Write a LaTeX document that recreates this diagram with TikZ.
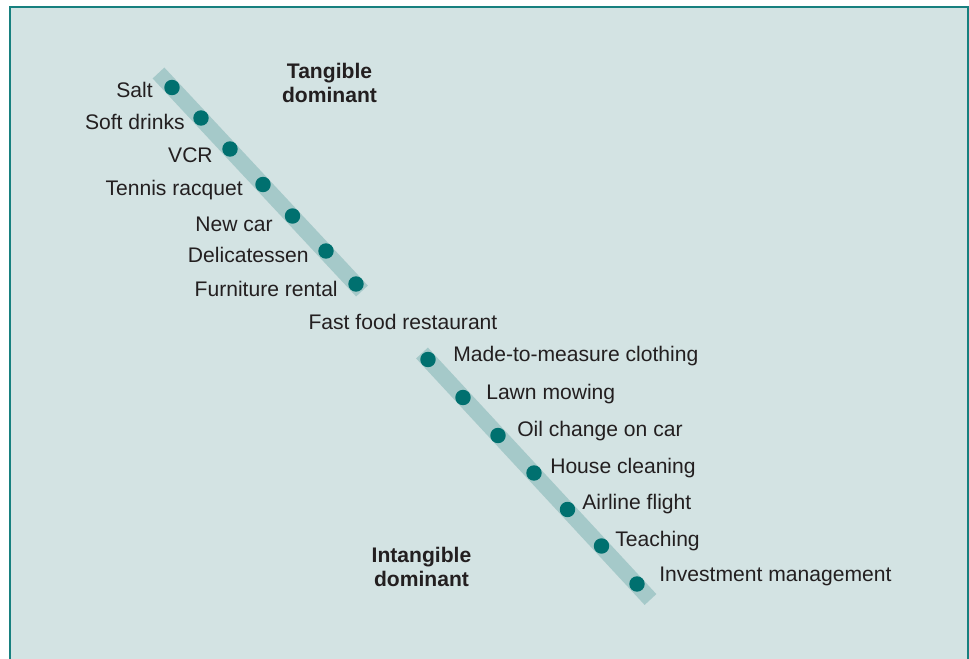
\documentclass[tikz,border=0pt]{standalone}
\usepackage{fontspec}
\setmainfont{Liberation Sans}
\definecolor{panelfill}{HTML}{D3E3E3}
\definecolor{bandfill}{HTML}{A5C9C9}
\definecolor{dotfill}{HTML}{00706F}
\definecolor{framecol}{HTML}{17807F}
\definecolor{textcol}{HTML}{231F20}
\tikzset{
  band/.style={draw=bandfill, line width=0.4cm, line cap=butt},
  spot/.style={circle, fill=dotfill, inner sep=0pt, minimum size=11},
  item/.style={inner sep=0pt, text=textcol, font=\fontsize{15}{18}\selectfont},
  pole/.style={inner sep=0pt, text=textcol, align=center, font=\fontsize{15}{17.1}\selectfont\bfseries}
}

\begin{document}
\begin{tikzpicture}[x=0.025cm, y=-0.025cm]
        \useasboundingbox (0,0) rectangle (969,659);
        % panel
        \fill[panelfill] (10,7) rectangle (968,659);
        \draw[framecol, line width=2] (10,659) -- (10,7) -- (968,7) -- (968,659);

        % bands
        \coordinate (tbegin) at (158.5,73);
        \coordinate (tend) at (362,291);
        \coordinate (ibegin) at (422,353);
        \coordinate (iend) at (650.5,599.5);
        \draw[band] (tbegin) -- (tend);
        \draw[band] (ibegin) -- (iend);

        % points, tangible side
        \node[spot] (salt) at (172,87.5) {};
        \node[spot] (soft) at (201,118) {};
        \node[spot] (vcr) at (230,149) {};
        \node[spot] (racquet) at (263,184.5) {};
        \node[spot] (newcar) at (292.5,216) {};
        \node[spot] (deli) at (326,251) {};
        \node[spot] (furniture) at (356,284) {};

        % points, intangible side
        \node[spot] (clothing) at (428,359.5) {};
        \node[spot] (lawn) at (463,397.5) {};
        \node[spot] (oil) at (498,435.5) {};
        \node[spot] (house) at (534,473) {};
        \node[spot] (airline) at (567.5,509.5) {};
        \node[spot] (teaching) at (601.5,546) {};
        \node[spot] (invest) at (637,584) {};

        % labels
        \node[item, anchor=base east] (salt-l) at (153,97.3) {Salt};
        \node[item, anchor=base east] (soft-l) at (185,129.3) {Soft drinks};
        \node[item, anchor=base east] (vcr-l) at (213,162.3) {VCR};
        \node[item, anchor=base east] (racquet-l) at (243,195) {Tennis racquet};
        \node[item, anchor=base east] (newcar-l) at (273,231.7) {New car};
        \node[item, anchor=base east] (deli-l) at (309,262.3) {Delicatessen};
        \node[item, anchor=base east] (furniture-l) at (338,296.7) {Furniture rental};
        \node[item, anchor=base west] (fastfood-l) at (308.3,329) {Fast food restaurant};
        \node[item, anchor=base west] (clothing-l) at (453,361.7) {Made-to-measure clothing};
        \node[item, anchor=base west] (lawn-l) at (486,399) {Lawn mowing};
        \node[item, anchor=base west] (oil-l) at (517,436) {Oil change on car};
        \node[item, anchor=base west] (house-l) at (550,473.3) {House cleaning};
        \node[item, anchor=base west] (airline-l) at (582,509.3) {Airline flight};
        \node[item, anchor=base west] (teaching-l) at (615,546) {Teaching};
        \node[item, anchor=base west] (invest-l) at (659,581.7) {Investment management};

        % ends of the scale
        \node[pole, anchor=base] (tangible) at (329.5,102.7) {Tangible\\dominant};
        \node[pole, anchor=base] (intangible) at (421.5,586.7) {Intangible\\dominant};
\end{tikzpicture}
\end{document}
